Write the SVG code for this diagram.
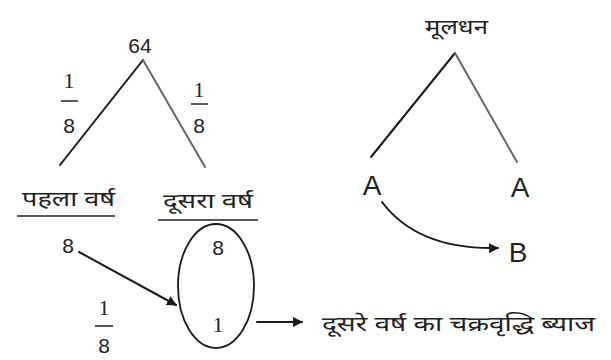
<svg xmlns="http://www.w3.org/2000/svg" width="611" height="360" viewBox="0 0 611 360">
<style>
.num{font-family:"Liberation Sans",Arial,sans-serif;font-size:21px;fill:#222;text-anchor:middle}
.one{font-family:"Liberation Serif","Times New Roman",serif;font-size:22px;fill:#222;text-anchor:middle}
.big{font-family:"Liberation Sans",Arial,sans-serif;font-size:28px;fill:#222;text-anchor:middle}
.hi{font-family:"Noto Sans Devanagari","Noto Sans","Lohit Devanagari",sans-serif;font-size:20px;fill:#222}
.ln{stroke:#1a1a1a;stroke-width:2;fill:none;stroke-linecap:round}
.lg{stroke:#666;stroke-width:2;fill:none;stroke-linecap:round}
.bar{stroke:#222;stroke-width:1.5}
</style>
<defs>
<marker id="ah" viewBox="0 0 10 10" refX="9" refY="5" markerWidth="10" markerHeight="10" markerUnits="userSpaceOnUse" orient="auto">
<path d="M0,0 L10,5 L0,10 z" fill="#1a1a1a"/>
</marker>
</defs>
<rect width="611" height="360" fill="#fff"/>
<g id="connectors">
<line class="ln" x1="143" y1="60" x2="60" y2="165"/>
<line class="lg" x1="143" y1="60" x2="205" y2="167"/>
<line class="ln" x1="455" y1="53" x2="371" y2="157"/>
<line class="lg" x1="455" y1="53" x2="517" y2="162"/>
<path class="ln" d="M382,202 Q418,250 498,248" marker-end="url(#ah)"/>
<line class="ln" x1="79" y1="252" x2="176" y2="305" marker-end="url(#ah)"/>
<line class="ln" x1="257" y1="322" x2="302" y2="322" marker-end="url(#ah)"/>
</g>
<g id="n64"><text class="num" x="140" y="53">64</text></g>
<g id="frac-left">
<text class="one" x="69" y="88">1</text>
<line class="bar" x1="61" y1="101" x2="78" y2="101"/>
<text class="num" x="69" y="133">8</text>
</g>
<g id="frac-right">
<text class="one" x="199" y="97">1</text>
<line class="bar" x1="191" y1="104" x2="208" y2="104"/>
<text class="num" x="199" y="133">8</text>
</g>
<g id="year1">
<text class="hi" x="22" y="206" textLength="93" lengthAdjust="spacingAndGlyphs">पहला वर्ष</text>
<line class="bar" x1="17" y1="216" x2="115" y2="216"/>
</g>
<g id="year2">
<text class="hi" x="163" y="208" textLength="90" lengthAdjust="spacingAndGlyphs">दूसरा वर्ष</text>
<line class="bar" x1="158" y1="220" x2="258" y2="220"/>
</g>
<g id="eight-left"><text class="num" x="68" y="253">8</text></g>
<g id="frac-bottom">
<text class="one" x="104" y="315">1</text>
<line class="bar" x1="95" y1="326" x2="113" y2="326"/>
<text class="num" x="104" y="353">8</text>
</g>
<g id="oval">
<ellipse cx="216" cy="286" rx="38" ry="62" fill="none" stroke="#1a1a1a" stroke-width="1.8"/>
<text class="num" x="218" y="255">8</text>
<text class="one" x="218" y="332">1</text>
</g>
<g id="interest"><text class="hi" x="322" y="331" textLength="273" lengthAdjust="spacingAndGlyphs">दूसरे वर्ष का चक्रवृद्धि ब्याज</text></g>
<g id="principal"><text class="hi" x="425" y="34" textLength="63" lengthAdjust="spacingAndGlyphs">मूलधन</text></g>
<g id="A1"><text class="big" x="372" y="195">A</text></g>
<g id="A2"><text class="big" x="520" y="197">A</text></g>
<g id="B"><text class="big" x="518" y="262">B</text></g>
</svg>
